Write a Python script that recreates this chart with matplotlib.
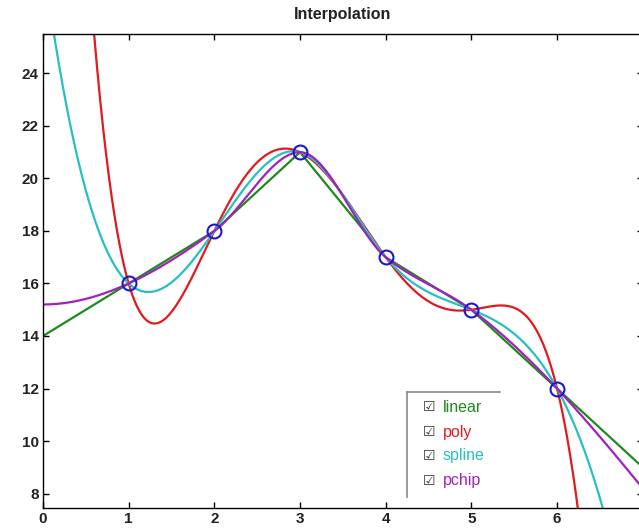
import numpy as np
import matplotlib
matplotlib.use('Agg')
import matplotlib.pyplot as plt
from matplotlib.lines import Line2D

# data points
x_data = [1, 2, 3, 4, 5, 6]
y_data = [16, 18, 21, 17, 15, 12]
methods = ['linear', 'poly', 'spline', 'pchip']
colors = ['#1e8a1e', '#e01a1e', '#26c0c0', '#a020c0']
x_ticks = [0, 1, 2, 3, 4, 5, 6]
y_ticks = [8, 10, 12, 14, 16, 18, 20, 22, 24]


def linear_interp(x, y, xq):
    # piecewise linear with end-segment extrapolation
    x = np.asarray(x, float); y = np.asarray(y, float)
    k = np.clip(np.searchsorted(x, xq) - 1, 0, len(x) - 2)
    t = (xq - x[k]) / (x[k + 1] - x[k])
    return y[k] + t * (y[k + 1] - y[k])


def spline_interp(x, y, xq):
    # cubic spline, not-a-knot end conditions
    x = np.asarray(x, float); y = np.asarray(y, float)
    n = len(x) - 1
    A = np.zeros((4 * n, 4 * n)); b = np.zeros(4 * n)
    r = 0
    for i in range(n):
        h = x[i + 1] - x[i]
        A[r, 4 * i] = 1; b[r] = y[i]; r += 1
        A[r, 4 * i:4 * i + 4] = [1, h, h**2, h**3]; b[r] = y[i + 1]; r += 1
    for i in range(n - 1):
        h = x[i + 1] - x[i]
        A[r, 4 * i:4 * i + 4] = [0, 1, 2 * h, 3 * h**2]; A[r, 4 * (i + 1) + 1] = -1; r += 1
        A[r, 4 * i:4 * i + 4] = [0, 0, 2, 6 * h]; A[r, 4 * (i + 1) + 2] = -2; r += 1
    A[r, 3] = 1; A[r, 7] = -1; r += 1
    A[r, 4 * (n - 2) + 3] = 1; A[r, 4 * (n - 1) + 3] = -1
    c = np.linalg.solve(A, b).reshape(n, 4)
    k = np.clip(np.searchsorted(x, xq) - 1, 0, n - 1)
    s = xq - x[k]
    return c[k, 0] + c[k, 1] * s + c[k, 2] * s**2 + c[k, 3] * s**3


def pchip_interp(x, y, xq):
    x = np.asarray(x, float); y = np.asarray(y, float)
    h = np.diff(x); de = np.diff(y) / h
    n = len(x)
    d = np.zeros(n)
    for k in range(1, n - 1):
        if de[k - 1] * de[k] > 0:
            w1 = 2 * h[k] + h[k - 1]; w2 = h[k] + 2 * h[k - 1]
            d[k] = (w1 + w2) / (w1 / de[k - 1] + w2 / de[k])

    def end_slope(h0, h1, d0, d1):
        s = ((2 * h0 + h1) * d0 - h0 * d1) / (h0 + h1)
        if np.sign(s) != np.sign(d0):
            s = 0
        elif np.sign(d0) != np.sign(d1) and abs(s) > abs(3 * d0):
            s = 3 * d0
        return s
    d[0] = end_slope(h[0], h[1], de[0], de[1])
    d[-1] = end_slope(h[-1], h[-2], de[-1], de[-2])
    k = np.clip(np.searchsorted(x, xq) - 1, 0, n - 2)
    s = xq - x[k]
    c = (3 * de[k] - 2 * d[k] - d[k + 1]) / h[k]
    bb = (d[k] - 2 * de[k] + d[k + 1]) / h[k]**2
    return y[k] + d[k] * s + c * s**2 + bb * s**3


xq = np.linspace(0, 7, 800)
curves = [
    linear_interp(x_data, y_data, xq),
    np.polyval(np.polyfit(x_data, y_data, len(x_data) - 1), xq),
    spline_interp(x_data, y_data, xq),
    pchip_interp(x_data, y_data, xq),
]

plt.rcParams['font.family'] = ['Liberation Sans', 'DejaVu Sans']
fig = plt.figure(figsize=(6.39, 5.28), dpi=100)
ax = fig.add_axes([0.0673, 0.0379, 0.9385, 0.8977])

for yy, col in zip(curves, colors):
    ax.plot(xq, yy, color=col, lw=1.6)
ax.plot(x_data, y_data, 'o', mfc='none', mec='#1a1acc', ms=10, mew=1.5)

ax.set_xlim(0, 7)
ax.set_ylim(7.45, 25.5)
ax.set_xticks(x_ticks)
ax.set_yticks(y_ticks)
ax.tick_params(direction='in', top=True, right=True, length=4, width=1,
               labelsize=11, pad=3, labelcolor='#222222')
for lab in ax.get_xticklabels() + ax.get_yticklabels():
    lab.set_fontweight('bold')
for sp in ax.spines.values():
    sp.set_linewidth(1)
ax.set_title('Interpolation', fontsize=11.5, fontweight='bold', pad=11,
             color='#222222')

# legend drawn like the original checkbox panel
ax.add_line(Line2D([0.607, 0.607], [0.023, 0.2447], transform=ax.transAxes,
                   color='#888888', lw=1.2))
ax.add_line(Line2D([0.607, 0.762], [0.2447, 0.2447], transform=ax.transAxes,
                   color='#888888', lw=1.2))
leg_y = [0.213, 0.160, 0.110, 0.057]
for name, col, yy in zip(methods, colors, leg_y):
    ax.text(0.643, yy, '\u2611', transform=ax.transAxes, fontsize=10,
            family='DejaVu Sans', fontweight='bold', color='#333333',
            ha='center', va='center')
    ax.text(0.667, yy, name, transform=ax.transAxes, fontsize=11.5,
            color=col, ha='left', va='center')

fig.savefig('out.png', dpi=100)
